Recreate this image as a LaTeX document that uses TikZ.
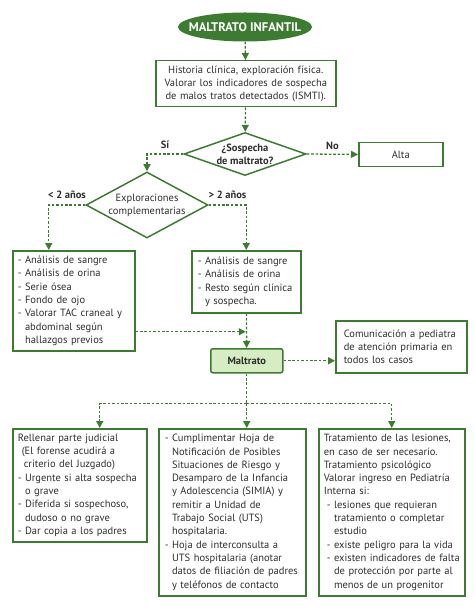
\documentclass[tikz,border=0pt]{standalone}
\usepackage{fontspec}
\setmainfont{PT Sans}
\usetikzlibrary{positioning}
\usetikzlibrary{shapes.geometric,arrows.meta}
\definecolor{verde}{HTML}{3E7B32}
\definecolor{verdeclaro}{HTML}{D6EDC4}
\definecolor{texto}{HTML}{2E2E2E}
\newcommand{\sang}{\phantom{- }}
\begin{document}
\begin{tikzpicture}[x=1pt,y=-1pt,
  caja/.style={draw=verde,line width=1.5pt,text=texto,font=\fontsize{10.5}{13.3}\selectfont,
    inner xsep=6pt,inner ysep=0pt,align=left,anchor=north west},
  rombo/.style={diamond,draw=verde,line width=1.5pt,text=texto,inner xsep=-20pt,inner ysep=-8pt,align=center},
  flecha/.style={draw=verde,line width=1.3pt,dash pattern=on 2.6pt off 1.8pt,-{Triangle[width=7pt,length=7pt]}},
  linea/.style={draw=verde,line width=1.3pt,dash pattern=on 2.6pt off 1.8pt},
  etiqueta/.style={font=\bfseries\fontsize{10.5}{12}\selectfont,text=texto}]
\useasboundingbox (0,0) rectangle (474,609);
\node[ellipse,fill=verde,text=white,font=\bfseries\fontsize{12.5}{14}\selectfont,
  inner xsep=-12pt,inner ysep=-2pt,minimum width=134pt,minimum height=29pt] (titulo) at (245,27) {MALTRATO INFANTIL};
\node[caja,align=center,text width=168pt,minimum height=46pt] (historia) at (155,60)
  {Historia clínica, exploración física.\\Valorar los indicadores de sospecha\\de malos tratos detectados (ISMTI).};
\node[rombo,minimum width=122pt,minimum height=43pt,font=\bfseries\fontsize{10.5}{13}\selectfont] (sospecha) at (245,154)
  {¿Sospecha\\de maltrato?};
\node[caja,align=center,text width=72pt,minimum height=24pt] (alta) at (358,142) {Alta};
\node[rombo,minimum width=122pt,minimum height=66pt,font=\fontsize{10.5}{13}\selectfont] (explora) at (147,205)
  {Exploraciones\\complementarias};
\node[caja,text width=112pt,minimum height=100pt,inner xsep=5pt] (examen1) at (12,250)
  {- Análisis de sangre\\- Análisis de orina\\- Serie ósea\\- Fondo de ojo\\- Valorar TAC craneal y\\
   \sang abdominal según\\\sang hallazgos previos};
\node[caja,text width=97pt,minimum height=62pt] (examen2) at (191,250)
  {- Análisis de sangre\\- Análisis de orina\\- Resto según clínica\\\sang y sospecha.};
\node[caja,rounded corners=2pt,fill=verdeclaro,align=center,text width=60pt,minimum height=24pt,
  font=\bfseries\fontsize{10.5}{13}\selectfont] (maltrato) at (210,348) {Maltrato};
\node[caja,text width=115pt,minimum height=52pt,inner xsep=8pt] (comunica) at (335,320)
  {Comunicación a pediatra\\de atención primaria en\\todos los casos};
\node[caja,text width=124pt,minimum height=113pt,inner xsep=5pt] (judicial) at (12,428)
  {Rellenar parte judicial\\\hspace{4pt}(El forense acudirá a\\\hspace{6pt}criterio del Juzgado)\\
   - Urgente si alta sospecha\\\sang o grave\\- Diferida si sospechoso,\\\sang dudoso o no grave\\
   - Dar copia a los padres};
\node[caja,text width=135pt,minimum height=167pt] (simia) at (158,428)
  {- Cumplimentar Hoja de\\\sang Notificación de Posibles\\\sang Situaciones de Riesgo y\\
   \sang Desamparo de la Infancia\\\sang y Adolescencia (SIMIA) y\\\sang remitir a Unidad de\\
   \sang Trabajo Social (UTS)\\\sang hospitalaria.\\- Hoja de interconsulta a\\
   \sang UTS hospitalaria (anotar\\\sang datos de filiación de padres\\\sang y teléfonos de contacto};
\node[caja,text width=140pt,minimum height=167pt,inner xsep=3pt] (tratamiento) at (318,428)
  {\hspace{2pt}Tratamiento de las lesiones,\\\hspace{2pt}en caso de ser necesario.\\\hspace{2pt}Tratamiento psicológico\\
   \hspace{2pt}Valorar ingreso en Pediatría\\\hspace{2pt}Interna si:\\\hspace{5pt}- lesiones que requieran\\
   \hspace{5pt}\sang tratamiento o completar\\\hspace{5pt}\sang estudio\\
   \hspace{5pt}- existe peligro para la vida\\\hspace{5pt}- existen indicadores de falta\\
   \hspace{5pt}\sang de protección por parte al\\\hspace{5pt}\sang menos de un progenitor};
\draw[flecha] (titulo) -- (historia);
\draw[flecha] (historia) -- (sospecha);
\draw[flecha] (sospecha.west) -| (explora.north) node[etiqueta,pos=0.25,above=1pt] {Sí};
\draw[flecha] (sospecha.east) -- (alta) node[etiqueta,midway,above=1pt] {No};
\draw[flecha] (explora.west) -| ([xshift=-25pt]examen1.north) node[etiqueta,pos=0.25,above=2pt] {< 2 años};
\draw[flecha] (explora.east) -| (examen2.north) node[etiqueta,pos=0.25,above=2pt] {> 2 años};
\draw[flecha] (examen2) -- (maltrato);
\draw[flecha,shorten >=1pt] ([yshift=-31pt]examen1.east) -- ([yshift=-31pt]examen1.east -| maltrato.north);
\draw[flecha] (maltrato.east) -- (maltrato.east -| comunica.west);
\coordinate[below=30pt of maltrato.south] (rama);
\draw[linea] (maltrato.south) -- (rama);
\draw[flecha] (rama) -| ([xshift=20pt]judicial.north);
\draw[flecha] (rama) -- (rama |- simia.north);
\draw[flecha] (rama) -| (tratamiento.north);
\end{tikzpicture}
\end{document}
